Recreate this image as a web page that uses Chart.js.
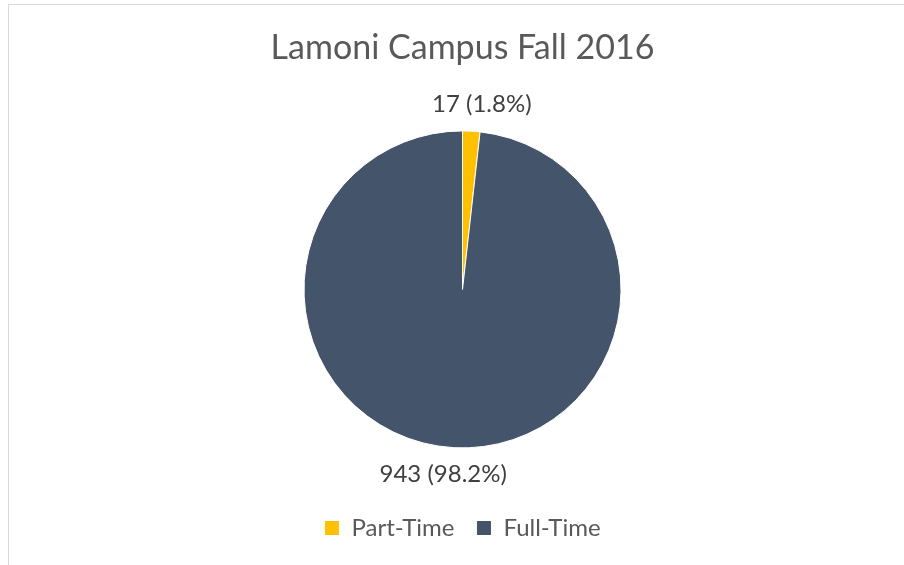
<!DOCTYPE html>
<html><head><meta charset="utf-8">
<script src="https://cdn.jsdelivr.net/npm/chart.js@4.4.0/dist/chart.umd.min.js"></script>
<style>html,body{margin:0;padding:0;background:#fff;overflow:hidden}#wrap{position:relative;width:904px;height:565px}</style>
</head><body><div id="wrap"><canvas id="c" width="904" height="565"></canvas></div>
<script>
const categories = ['Part-Time', 'Full-Time'];
const counts = [17, 943];
const percentLabels = ['1.8%', '98.2%'];
const colors = ['#FFC000', '#44546A'];
const chartTitle = 'Lamoni Campus Fall 2016';

const FONT = 'Lato';

const borderPlugin = {
  id: 'frame',
  beforeDraw(chart) {
    const ctx = chart.ctx;
    ctx.save();
    ctx.fillStyle = '#fff';
    ctx.fillRect(0, 0, chart.width, chart.height);
    ctx.strokeStyle = '#d9d9d9';
    ctx.lineWidth = 1;
    ctx.strokeRect(8.5, 4.5, chart.width + 20, chart.height + 20);
    ctx.restore();
  }
};

const labelPlugin = {
  id: 'sliceLabels',
  afterDatasetsDraw(chart) {
    const ctx = chart.ctx;
    const meta = chart.getDatasetMeta(0);
    ctx.save();
    ctx.font = '24px ' + FONT;
    ctx.fillStyle = '#404040';
    ctx.textAlign = 'center';
    ctx.textBaseline = 'middle';
    meta.data.forEach((arc, i) => {
      const p = arc.getProps(['x', 'y', 'startAngle', 'endAngle', 'outerRadius'], true);
      const mid = (p.startAngle + p.endAngle) / 2;
      const r = p.outerRadius + 27;
      const dx = Math.sign(Math.cos(mid)) * 9;
      const x = p.x + Math.cos(mid) * r + dx;
      const y = p.y + Math.sin(mid) * r;
      ctx.fillText(counts[i] + ' (' + percentLabels[i] + ')', x, y);
    });
    ctx.restore();
  }
};

new Chart(document.getElementById('c'), {
  type: 'pie',
  data: {
    labels: categories,
    datasets: [{
      data: counts,
      backgroundColor: colors,
      borderColor: '#ffffff',
      borderWidth: 1,
      radius: 158.5
    }]
  },
  options: {
    responsive: false,
    animation: false,
    events: [],
    devicePixelRatio: 1,
    layout: { padding: { left: 21, right: 0, top: 0, bottom: 15 } },
    plugins: {
      title: {
        display: true,
        text: chartTitle,
        color: '#595959',
        font: { family: FONT, size: 34, weight: 'normal' },
        padding: { top: 28, bottom: 16 }
      },
      legend: {
        display: true,
        position: 'bottom',
        labels: {
          color: '#595959',
          font: { family: FONT, size: 24 },
          boxWidth: 15,
          boxHeight: 15,
          padding: 22
        }
      },
      tooltip: { enabled: false }
    }
  },
  plugins: [borderPlugin, labelPlugin]
});
</script>
</body></html>
